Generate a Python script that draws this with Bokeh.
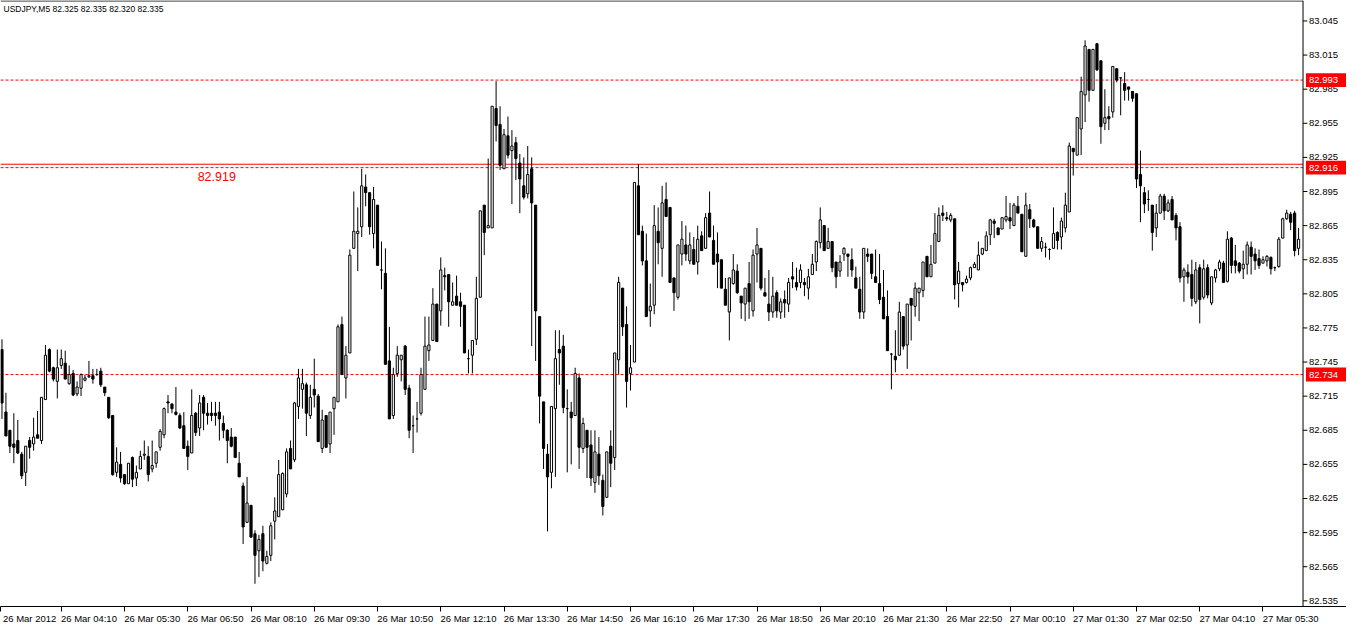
from bokeh.plotting import figure
from bokeh.models import ColumnDataSource, FixedTicker, Span, Label
from bokeh.core.properties import value
from bokeh.embed import file_html
from bokeh.resources import INLINE

symbol_text = "USDJPY,M5  82.325 82.335 82.320 82.335"

opens = [
    82.756, 82.701, 82.685, 82.673, 82.676, 82.664, 82.648, 82.676, 82.673, 82.681,
    82.676, 82.712, 82.756, 82.740, 82.728, 82.742, 82.744, 82.726, 82.735, 82.717,
    82.722, 82.729, 82.732, 82.733, 82.734, 82.737, 82.723, 82.714, 82.698, 82.648,
    82.655, 82.646, 82.638, 82.661, 82.643, 82.651, 82.663, 82.662, 82.651, 82.656,
    82.670, 82.681, 82.710, 82.708, 82.701, 82.698, 82.689, 82.671, 82.665, 82.700,
    82.687, 82.714, 82.700, 82.700, 82.700, 82.701, 82.691, 82.685, 82.679, 82.679,
    82.656, 82.636, 82.604, 82.619, 82.594, 82.579, 82.594, 82.568, 82.575, 82.605,
    82.609, 82.615, 82.629, 82.669, 82.659, 82.706, 82.721, 82.725, 82.698, 82.721,
    82.715, 82.669, 82.698, 82.673, 82.704, 82.710, 82.778, 82.731, 82.753, 82.845,
    82.858, 82.864, 82.899, 82.894, 82.858, 82.883, 82.826, 82.823, 82.746, 82.698,
    82.735, 82.747, 82.759, 82.722, 82.689, 82.695, 82.700, 82.721, 82.755, 82.764,
    82.796, 82.790, 82.821, 82.822, 82.795, 82.803, 82.798, 82.795, 82.748, 82.751,
    82.765, 82.802, 82.883, 82.863, 82.863, 82.968, 82.954, 82.915, 82.944, 82.931,
    82.938, 82.920, 82.900, 82.893, 82.915, 82.883, 82.785, 82.710, 82.664, 82.648,
    82.704, 82.756, 82.759, 82.704, 82.701, 82.698, 82.731, 82.669, 82.685, 82.672,
    82.639, 82.664, 82.641, 82.626, 82.671, 82.661, 82.747, 82.810, 82.778, 82.735,
    82.745, 82.900, 82.860, 82.834, 82.790, 82.795, 82.860, 82.845, 82.888, 82.881,
    82.819, 82.802, 82.840, 82.848, 82.834, 82.844, 82.833, 82.856, 82.845, 82.876,
    82.852, 82.840, 82.835, 82.809, 82.789, 82.814, 82.825, 82.803, 82.796, 82.814,
    82.790, 82.840, 82.845, 82.806, 82.796, 82.789, 82.806, 82.789, 82.800, 82.796,
    82.820, 82.815, 82.815, 82.815, 82.810, 82.822, 82.833, 82.850, 82.865, 82.845,
    82.851, 82.833, 82.825, 82.840, 82.840, 82.835, 82.819, 82.809, 82.789, 82.840,
    82.840, 82.820, 82.814, 82.802, 82.785, 82.752, 82.750, 82.751, 82.785, 82.760,
    82.801, 82.794, 82.806, 82.808, 82.838, 82.820, 82.832, 82.851, 82.876, 82.872,
    82.870, 82.871, 82.814, 82.815, 82.815, 82.819, 82.828, 82.826, 82.840, 82.843,
    82.857, 82.869, 82.863, 82.862, 82.870, 82.872, 82.865, 82.882, 82.875, 82.838,
    82.879, 82.870, 82.864, 82.845, 82.846, 82.844, 82.845, 82.859, 82.855, 82.863,
    82.877, 82.933, 82.927, 82.950, 82.980, 83.020, 82.984, 83.025, 83.010, 82.955,
    82.961, 82.965, 83.003, 82.995, 82.990, 82.987, 82.983, 82.981, 82.910, 82.894,
    82.888, 82.883, 82.863, 82.876, 82.891, 82.878, 82.888, 82.874, 82.864, 82.820,
    82.824, 82.822, 82.798, 82.828, 82.802, 82.828, 82.797, 82.819, 82.827, 82.832,
    82.816, 82.854, 82.834, 82.832, 82.827, 82.831, 82.846, 82.840, 82.836, 82.832,
    82.834, 82.837, 82.828, 82.829, 82.854, 82.871, 82.875, 82.876, 82.845,
]

highs = [
    82.765, 82.718, 82.685, 82.700, 82.694, 82.666, 82.671, 82.679, 82.696, 82.702,
    82.714, 82.760, 82.757, 82.741, 82.756, 82.756, 82.755, 82.742, 82.738, 82.728,
    82.735, 82.734, 82.746, 82.739, 82.739, 82.740, 82.723, 82.714, 82.698, 82.670,
    82.666, 82.646, 82.656, 82.662, 82.654, 82.667, 82.676, 82.671, 82.676, 82.666,
    82.686, 82.705, 82.716, 82.709, 82.723, 82.700, 82.701, 82.676, 82.721, 82.701,
    82.716, 82.716, 82.709, 82.710, 82.710, 82.710, 82.698, 82.686, 82.687, 82.679,
    82.666, 82.639, 82.644, 82.619, 82.597, 82.593, 82.601, 82.579, 82.604, 82.626,
    82.659, 82.648, 82.669, 82.676, 82.710, 82.739, 82.739, 82.727, 82.725, 82.748,
    82.717, 82.703, 82.698, 82.701, 82.714, 82.778, 82.785, 82.759, 82.844, 82.895,
    82.881, 82.915, 82.910, 82.894, 82.899, 82.883, 82.851, 82.845, 82.776, 82.740,
    82.759, 82.751, 82.760, 82.725, 82.698, 82.710, 82.740, 82.785, 82.785, 82.810,
    82.796, 82.837, 82.828, 82.822, 82.815, 82.821, 82.806, 82.795, 82.756, 82.764,
    82.820, 82.878, 82.883, 82.924, 82.970, 82.992, 82.970, 82.950, 82.961, 82.949,
    82.943, 82.928, 82.925, 82.935, 82.925, 82.883, 82.785, 82.710, 82.673, 82.706,
    82.773, 82.773, 82.769, 82.721, 82.710, 82.740, 82.735, 82.696, 82.685, 82.685,
    82.685, 82.679, 82.646, 82.666, 82.685, 82.753, 82.820, 82.810, 82.794, 82.760,
    82.903, 82.919, 82.865, 82.858, 82.814, 82.883, 82.881, 82.900, 82.903, 82.881,
    82.819, 82.848, 82.869, 82.865, 82.859, 82.855, 82.865, 82.860, 82.876, 82.895,
    82.865, 82.859, 82.835, 82.819, 82.819, 82.840, 82.831, 82.803, 82.810, 82.833,
    82.844, 82.863, 82.845, 82.819, 82.826, 82.820, 82.808, 82.801, 82.808, 82.819,
    82.833, 82.828, 82.831, 82.819, 82.827, 82.840, 82.852, 82.881, 82.865, 82.863,
    82.851, 82.833, 82.839, 82.846, 82.840, 82.845, 82.829, 82.820, 82.845, 82.845,
    82.840, 82.844, 82.840, 82.826, 82.808, 82.753, 82.773, 82.798, 82.785, 82.796,
    82.801, 82.815, 82.810, 82.833, 82.838, 82.848, 82.876, 82.881, 82.883, 82.877,
    82.876, 82.871, 82.833, 82.815, 82.821, 82.829, 82.833, 82.851, 82.845, 82.860,
    82.871, 82.871, 82.863, 82.872, 82.891, 82.885, 82.885, 82.891, 82.875, 82.894,
    82.884, 82.871, 82.864, 82.855, 82.850, 82.845, 82.881, 82.860, 82.872, 82.894,
    82.938, 82.933, 82.960, 82.996, 83.028, 83.020, 83.020, 83.025, 83.010, 82.985,
    82.970, 83.005, 83.003, 82.995, 83.000, 82.987, 82.983, 82.981, 82.931, 82.899,
    82.896, 82.883, 82.884, 82.893, 82.893, 82.888, 82.891, 82.876, 82.868, 82.828,
    82.831, 82.835, 82.833, 82.831, 82.835, 82.831, 82.820, 82.827, 82.835, 82.834,
    82.860, 82.855, 82.848, 82.833, 82.843, 82.851, 82.851, 82.845, 82.844, 82.838,
    82.839, 82.838, 82.829, 82.855, 82.872, 82.879, 82.877, 82.878, 82.863,
]

lows = [
    82.695, 82.680, 82.665, 82.656, 82.664, 82.642, 82.636, 82.660, 82.667, 82.678,
    82.673, 82.712, 82.736, 82.728, 82.713, 82.739, 82.730, 82.725, 82.715, 82.715,
    82.715, 82.728, 82.731, 82.726, 82.733, 82.723, 82.715, 82.695, 82.645, 82.644,
    82.639, 82.637, 82.638, 82.635, 82.636, 82.651, 82.659, 82.640, 82.648, 82.652,
    82.667, 82.678, 82.700, 82.700, 82.698, 82.686, 82.669, 82.650, 82.665, 82.680,
    82.680, 82.685, 82.690, 82.693, 82.689, 82.676, 82.678, 82.656, 82.670, 82.661,
    82.644, 82.585, 82.604, 82.591, 82.550, 82.556, 82.561, 82.567, 82.570, 82.589,
    82.609, 82.615, 82.626, 82.651, 82.657, 82.695, 82.704, 82.680, 82.695, 82.705,
    82.675, 82.665, 82.670, 82.665, 82.681, 82.710, 82.734, 82.713, 82.753, 82.845,
    82.825, 82.855, 82.882, 82.857, 82.845, 82.830, 82.809, 82.743, 82.695, 82.695,
    82.732, 82.728, 82.716, 82.678, 82.665, 82.683, 82.698, 82.721, 82.746, 82.764,
    82.763, 82.777, 82.808, 82.776, 82.795, 82.795, 82.776, 82.753, 82.735, 82.735,
    82.760, 82.802, 82.839, 82.863, 82.863, 82.939, 82.914, 82.915, 82.924, 82.884,
    82.905, 82.876, 82.888, 82.889, 82.759, 82.746, 82.691, 82.651, 82.596, 82.634,
    82.644, 82.725, 82.700, 82.648, 82.655, 82.698, 82.651, 82.665, 82.643, 82.636,
    82.630, 82.637, 82.610, 82.626, 82.635, 82.650, 82.734, 82.768, 82.705, 82.720,
    82.745, 82.857, 82.830, 82.785, 82.776, 82.787, 82.831, 82.820, 82.873, 82.815,
    82.790, 82.800, 82.830, 82.834, 82.831, 82.831, 82.822, 82.843, 82.845, 82.855,
    82.831, 82.810, 82.810, 82.795, 82.764, 82.813, 82.805, 82.783, 82.781, 82.783,
    82.785, 82.815, 82.808, 82.803, 82.781, 82.784, 82.784, 82.783, 82.784, 82.789,
    82.810, 82.808, 82.810, 82.803, 82.800, 82.822, 82.825, 82.845, 82.843, 82.845,
    82.824, 82.810, 82.820, 82.834, 82.820, 82.820, 82.810, 82.783, 82.783, 82.833,
    82.818, 82.815, 82.796, 82.783, 82.755, 82.721, 82.736, 82.751, 82.756, 82.739,
    82.764, 82.785, 82.781, 82.802, 82.820, 82.820, 82.832, 82.851, 82.869, 82.869,
    82.868, 82.800, 82.793, 82.807, 82.814, 82.817, 82.828, 82.826, 82.839, 82.843,
    82.848, 82.854, 82.857, 82.862, 82.868, 82.862, 82.865, 82.876, 82.842, 82.838,
    82.863, 82.863, 82.845, 82.842, 82.837, 82.835, 82.845, 82.844, 82.844, 82.859,
    82.877, 82.909, 82.927, 82.927, 82.956, 82.974, 82.984, 83.001, 82.937, 82.949,
    82.949, 82.960, 82.991, 82.962, 82.975, 82.975, 82.974, 82.898, 82.868, 82.876,
    82.878, 82.843, 82.855, 82.876, 82.870, 82.877, 82.870, 82.852, 82.815, 82.798,
    82.814, 82.794, 82.796, 82.779, 82.800, 82.801, 82.795, 82.815, 82.825, 82.815,
    82.815, 82.823, 82.823, 82.823, 82.818, 82.822, 82.822, 82.826, 82.827, 82.832,
    82.829, 82.822, 82.825, 82.828, 82.854, 82.870, 82.861, 82.838, 82.839,
]

closes = [
    82.709, 82.680, 82.671, 82.670, 82.665, 82.645, 82.671, 82.670, 82.679, 82.678,
    82.714, 82.751, 82.737, 82.730, 82.740, 82.748, 82.730, 82.734, 82.716, 82.723,
    82.734, 82.731, 82.733, 82.730, 82.734, 82.725, 82.718, 82.696, 82.646, 82.657,
    82.643, 82.638, 82.656, 82.642, 82.648, 82.662, 82.664, 82.646, 82.654, 82.666,
    82.684, 82.704, 82.709, 82.704, 82.699, 82.687, 82.669, 82.662, 82.698, 82.683,
    82.709, 82.700, 82.698, 82.698, 82.698, 82.695, 82.685, 82.676, 82.671, 82.661,
    82.644, 82.600, 82.621, 82.591, 82.575, 82.589, 82.570, 82.574, 82.601, 82.614,
    82.646, 82.647, 82.666, 82.651, 82.709, 82.731, 82.726, 82.700, 82.714, 82.716,
    82.675, 82.694, 82.670, 82.701, 82.714, 82.776, 82.734, 82.751, 82.839, 82.860,
    82.860, 82.900, 82.894, 82.864, 82.888, 82.830, 82.826, 82.743, 82.695, 82.734,
    82.751, 82.751, 82.721, 82.685, 82.689, 82.695, 82.734, 82.759, 82.760, 82.796,
    82.763, 82.826, 82.820, 82.798, 82.798, 82.795, 82.794, 82.753, 82.748, 82.764,
    82.801, 82.878, 82.859, 82.865, 82.970, 82.953, 82.918, 82.945, 82.927, 82.935,
    82.924, 82.906, 82.890, 82.910, 82.885, 82.790, 82.715, 82.669, 82.644, 82.706,
    82.748, 82.753, 82.705, 82.704, 82.696, 82.735, 82.670, 82.691, 82.670, 82.643,
    82.666, 82.645, 82.618, 82.666, 82.656, 82.753, 82.815, 82.776, 82.728, 82.740,
    82.903, 82.857, 82.834, 82.785, 82.794, 82.865, 82.850, 82.885, 82.873, 82.815,
    82.806, 82.848, 82.853, 82.840, 82.848, 82.831, 82.853, 82.843, 82.872, 82.855,
    82.831, 82.833, 82.810, 82.795, 82.819, 82.826, 82.806, 82.797, 82.810, 82.798,
    82.839, 82.848, 82.810, 82.803, 82.789, 82.803, 82.790, 82.798, 82.797, 82.815,
    82.818, 82.811, 82.826, 82.813, 82.820, 82.831, 82.851, 82.870, 82.843, 82.851,
    82.828, 82.820, 82.833, 82.845, 82.838, 82.826, 82.810, 82.789, 82.845, 82.838,
    82.823, 82.815, 82.800, 82.783, 82.755, 82.752, 82.747, 82.789, 82.759, 82.796,
    82.795, 82.810, 82.810, 82.833, 82.820, 82.831, 82.858, 82.874, 82.874, 82.871,
    82.874, 82.813, 82.825, 82.813, 82.818, 82.828, 82.831, 82.839, 82.845, 82.856,
    82.870, 82.867, 82.857, 82.872, 82.873, 82.869, 82.883, 82.876, 82.842, 82.883,
    82.871, 82.864, 82.845, 82.851, 82.846, 82.844, 82.858, 82.852, 82.869, 82.883,
    82.935, 82.930, 82.960, 82.983, 83.023, 82.984, 83.020, 83.002, 82.952, 82.960,
    82.959, 83.005, 82.993, 82.995, 82.984, 82.985, 82.977, 82.906, 82.900, 82.884,
    82.888, 82.859, 82.876, 82.891, 82.878, 82.885, 82.870, 82.863, 82.819, 82.826,
    82.820, 82.801, 82.826, 82.800, 82.827, 82.804, 82.820, 82.826, 82.833, 82.815,
    82.853, 82.830, 82.830, 82.825, 82.831, 82.848, 82.838, 82.834, 82.830, 82.835,
    82.838, 82.827, 82.828, 82.853, 82.871, 82.876, 82.868, 82.843, 82.853,
]

time_labels = [
    "26 Mar 2012", "26 Mar 04:10", "26 Mar 05:30", "26 Mar 06:50", "26 Mar 08:10",
    "26 Mar 09:30", "26 Mar 10:50", "26 Mar 12:10", "26 Mar 13:30", "26 Mar 14:50",
    "26 Mar 16:10", "26 Mar 17:30", "26 Mar 18:50", "26 Mar 20:10", "26 Mar 21:30",
    "26 Mar 22:50", "27 Mar 00:10", "27 Mar 01:30", "27 Mar 02:50", "27 Mar 04:10",
    "27 Mar 05:30",
]
time_label_bars = [-0.375, 15, 31, 47, 63, 79, 95, 111, 127, 143, 159, 175, 191,
                   207, 223, 239, 255, 271, 287, 303, 319]

price_ticks = [82.535, 82.565, 82.595, 82.625, 82.655, 82.685, 82.715, 82.745,
               82.775, 82.805, 82.835, 82.865, 82.895, 82.925, 82.955, 82.985,
               83.015, 83.045]

solid_level = 82.919
dashed_levels = [82.993, 82.916, 82.734]

FONT = "Liberation Sans"
n = len(closes)
idx = list(range(n))
body_top = [max(o, c) for o, c in zip(opens, closes)]
body_bot = [min(o, c) for o, c in zip(opens, closes)]
fills = ["white" if c >= o else "black" for o, c in zip(opens, closes)]

src = ColumnDataSource(dict(x=idx, o=opens, h=highs, l=lows, c=closes,
                            top=body_top, bot=body_bot, fill=fills))

# chart area spans bars x_start..chart_end; the price scale strip lies to its right
x_start, chart_end, x_stop = -0.375, 329.125, 340.125
y_bottom, y_top = 82.530, 83.063

p = figure(width=1346, height=626, x_range=(x_start, x_stop), y_range=(y_bottom, y_top),
           output_backend="svg", toolbar_location=None, y_axis_location=None,
           min_border_left=0, min_border_top=0, min_border_right=0, min_border_bottom=2)
p.background_fill_color = "white"
p.border_fill_color = "white"
p.outline_line_color = None
p.grid.visible = False

# chart border (top and right)
p.segment(x0=[x_start], y0=[y_top - 0.0004], x1=[chart_end], y1=[y_top - 0.0004],
          line_color="black", line_width=1)
p.add_layout(Span(location=chart_end, dimension="height", line_color="black", line_width=1))

# level lines, limited to the chart area
p.segment(x0=[x_start], y0=[solid_level], x1=[chart_end], y1=[solid_level],
          line_color="#ff0000", line_width=1)
p.segment(x0=[x_start] * len(dashed_levels), y0=dashed_levels,
          x1=[chart_end] * len(dashed_levels), y1=dashed_levels,
          line_color="#ff0000", line_width=1, line_dash="3 2")

# candles
p.segment(x0="x", y0="l", x1="x", y1="h", source=src, line_color="black", line_width=1)
p.vbar(x="x", width=0.55, top="top", bottom="bot", source=src,
       fill_color="fill", line_color="black", line_width=1)

# price scale on the right of the chart
p.segment(x0=[chart_end] * len(price_ticks), y0=price_ticks,
          x1=[chart_end + 1.1] * len(price_ticks), y1=price_ticks,
          line_color="black", line_width=1)
p.text(x=[chart_end + 1.5] * len(price_ticks), y=price_ticks,
       text=[f"{t:.3f}" for t in price_ticks], text_font=value(FONT),
       text_font_size="9.5px", text_color="black", text_baseline="middle", text_align="left")

# red price boxes for the levels
p.quad(left=[chart_end + 0.75] * len(dashed_levels), right=[chart_end + 10.9] * len(dashed_levels),
       bottom=[lv - 0.0061 for lv in dashed_levels], top=[lv + 0.0061 for lv in dashed_levels],
       fill_color="#ff0000", line_color=None)
p.text(x=[chart_end + 1.5] * len(dashed_levels), y=dashed_levels,
       text=[f"{lv:.3f}" for lv in dashed_levels], text_font=value(FONT),
       text_font_size="9.5px", text_color="white", text_baseline="middle", text_align="left")

# time axis: tick marks at label start, labels to their right
centers = [int(round(t)) + 7 for t in time_label_bars]
xa = p.xaxis[0]
xa.ticker = FixedTicker(ticks=centers, minor_ticks=time_label_bars)
xa.major_label_overrides = {c: lab for c, lab in zip(centers, time_labels)}
xa.major_tick_line_color = None
xa.major_tick_out = 0
xa.major_tick_in = 0
xa.minor_tick_line_color = "black"
xa.minor_tick_out = 5
xa.minor_tick_in = 0
xa.axis_line_color = "black"
xa.major_label_standoff = 1
xa.major_label_text_font = FONT
xa.major_label_text_font_size = "9.5px"
xa.major_label_text_color = "black"

p.add_layout(Label(x=49.5, y=solid_level, y_offset=-8, text=f"{solid_level:.3f}",
                   text_color="#ff0000", text_font=FONT, text_font_size="12.5px",
                   text_baseline="top", text_align="left"))

p.add_layout(Label(x=x_start, y=y_top, x_offset=3, y_offset=-3, text=symbol_text,
                   text_color="black", text_font=FONT, text_font_size="8.5px",
                   text_baseline="top", text_align="left"))

open("out.html", "w").write(file_html(p, INLINE))
